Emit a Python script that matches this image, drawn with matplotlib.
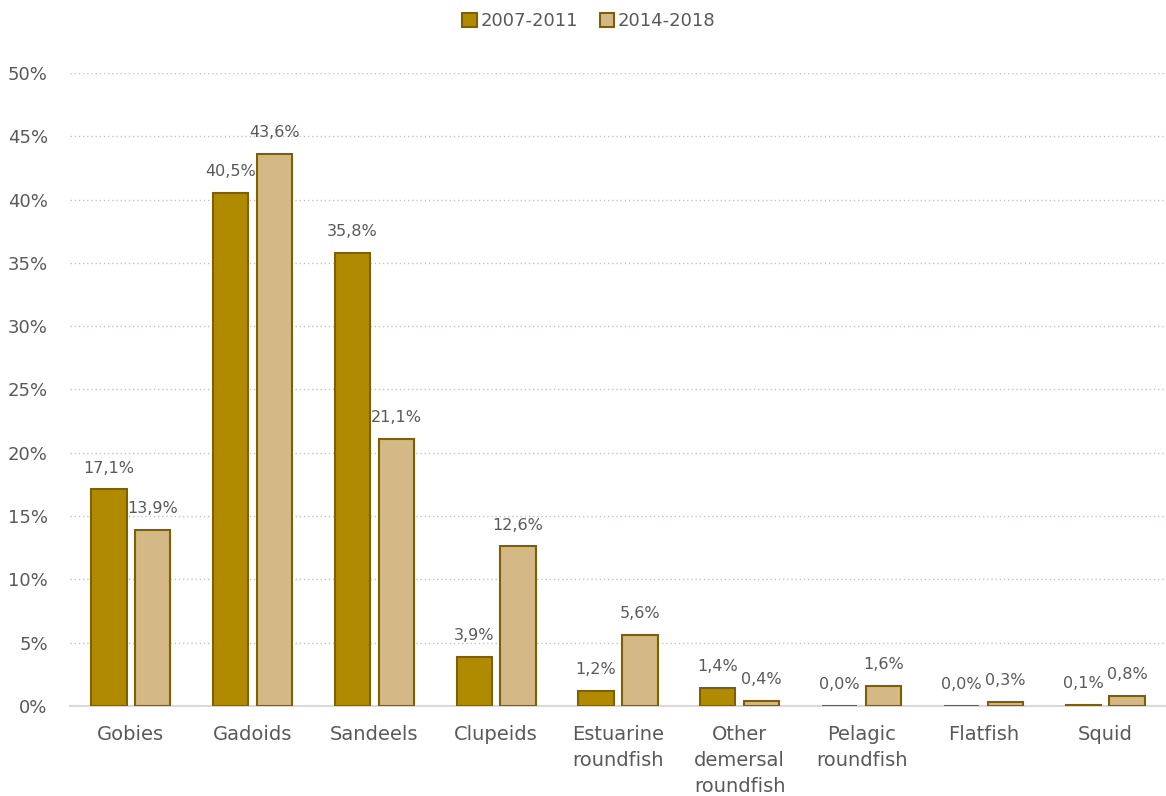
import matplotlib
matplotlib.use('Agg')

import numpy as np
import matplotlib.pyplot as plt

categories = ['Gobies', 'Gadoids', 'Sandeels', 'Clupeids', 'Estuarine\nroundfish',
              'Other\ndemersal\nroundfish', 'Pelagic\nroundfish', 'Flatfish', 'Squid']
period_a = [17.1, 40.5, 35.8, 3.9, 1.2, 1.4, 0.0, 0.0, 0.1]
period_b = [13.9, 43.6, 21.1, 12.6, 5.6, 0.4, 1.6, 0.3, 0.8]
series_names = ['2007-2011', '2014-2018']
yticks = [0, 5, 10, 15, 20, 25, 30, 35, 40, 45, 50]

plt.rcParams['font.family'] = ['DejaVu Sans']
text_col = '#595959'

fig = plt.figure(figsize=(11.66, 7.96), dpi=100)
ax = fig.add_axes([0.060, 0.1131, 0.94, 0.7952])

x = np.arange(len(categories))
w = 0.29
off = 0.18
b1 = ax.bar(x - off, period_a, w, color='#B08A00', edgecolor='#7F6000',
            linewidth=1.5, label=series_names[0], zorder=3)
b2 = ax.bar(x + off, period_b, w, color='#D4B886', edgecolor='#7F6000',
            linewidth=1.5, label=series_names[1], zorder=3)

for bars in (b1, b2):
    for r in bars:
        v = r.get_height()
        ax.annotate(('%.1f%%' % v).replace('.', ','),
                    (r.get_x() + r.get_width() / 2, v),
                    xytext=(0, 10), textcoords='offset points',
                    ha='center', va='bottom', fontsize=11.5, color=text_col)

ax.set_xlim(-0.5, len(categories) - 0.5)
ax.set_ylim(0, 50)
ax.set_yticks(yticks)
ax.set_yticklabels(['%d%%' % t for t in yticks], fontsize=13, color=text_col)
ax.set_xticks(x)
ax.set_xticklabels(categories, fontsize=14, color=text_col, linespacing=1.45)
ax.tick_params(axis='x', length=0, pad=14)
ax.tick_params(axis='y', length=0, pad=16)

ax.yaxis.grid(True, linestyle=(0, (1, 2)), color='#C9C0BE', linewidth=1, zorder=0)
for s in ['top', 'right', 'left']:
    ax.spines[s].set_visible(False)
ax.spines['bottom'].set_color('#D9D9D9')
ax.spines['bottom'].set_linewidth(1.5)
ax.spines['bottom'].set_zorder(2)

fig.legend(loc='upper center', bbox_to_anchor=(0.505, 1.005), ncol=2,
           frameon=False, fontsize=13, handlelength=0.8, handleheight=0.8,
           handletextpad=0.2, columnspacing=1.2, labelcolor=text_col)

fig.savefig('out.png', dpi=100)
